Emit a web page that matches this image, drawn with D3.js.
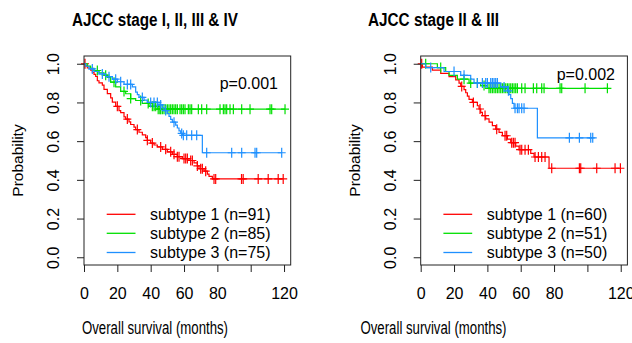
<!DOCTYPE html>
<html>
<head>
<meta charset="utf-8">
<title></title>
<style>
body { margin: 0; background: #fff; }
svg { display: block; }
text { fill: #000; font-family: "Liberation Sans", Arial, sans-serif; }
.box { fill: none; stroke: #222; stroke-width: 1px; }
.km { fill: none; stroke-width: 1.2px; }
.tick line { stroke: #222; }
</style>
</head>
<body>
<script src="https://cdn.jsdelivr.net/npm/d3@7"></script>
<script>

var width = 632,
    height = 343;

// axis ticks
var timeTicks = [0, 20, 40, 60, 80, 100, 120];
var timeTickLabels = ["0", "20", "40", "60", "80", "", "120"];
var probTicks = [0, 0.2, 0.4, 0.6, 0.8, 1.0];
var probTickLabels = ["0.0", "0.2", "0.4", "0.6", "0.8", "1.0"];

var subtypeColors = ["#ff0000", "#00e000", "#1e90ff"];

// panel A : AJCC stage I, II, III & IV
var stageAllTitle = "AJCC stage I, II, III & IV";
var stageAllPValue = "p=0.001";
var stageAllLegend = ["subtype 1 (n=91)", "subtype 2 (n=85)", "subtype 3 (n=75)"];

var stageAllSubtype1 = [[0,1],[1,0.989],[2,0.978],[4,0.967],[5,0.956],[6,0.945],[7,0.934],[8,0.912],[9,0.901],
  [11,0.89],[12,0.868],[14,0.846],[16,0.824],[17,0.802],[19,0.78],[21,0.758],[22,0.747],[24,0.725],[25,0.714],
  [27,0.70],[28,0.686],[30,0.672],[31,0.66],[33,0.646],[35,0.632],[37,0.618],[38,0.604],[40,0.59],[42,0.58],
  [44,0.57],[47,0.558],[50,0.545],[53,0.532],[56,0.52],[59,0.51],[63,0.50],[66,0.488],[68,0.472],[69,0.458],
  [72,0.445],[74,0.43],[75,0.418],[77,0.405]];
var stageAllSubtype1Censor = [0.6,20,26,32,38,41,46,49,52,54,56,57,60,61,62,64,65,68,70,71,73,78,79,
  94.5,95.5,104.5,110.5,116.5,119.5];

var stageAllSubtype2 = [[0,1],[2,0.988],[4,0.976],[6,0.965],[9,0.953],[12,0.941],[14,0.929],[16,0.905],
  [19,0.88],[22,0.857],[25,0.845],[28,0.82],[31,0.81],[35,0.795],[39,0.78],[44,0.765]];
var stageAllSubtype2Censor = [8,13,18,24,28,34,38.5,41,42,43,44.5,45.5,46,47,48,49,50,51,52,53,54,55,56,
  57.6,58.6,59.6,60.6,62.6,63.6,64.6,68.6,70.6,73.6,81.6,83.6,84.6,85.6,87.6,89.6,94.6,99.6,111.6,112.6,120.6];

var stageAllSubtype3 = [[0,1],[1,0.987],[3,0.973],[6,0.96],[9,0.947],[13,0.933],[17,0.92],[20,0.907],
  [24,0.893],[29,0.88],[31,0.853],[32,0.84],[33,0.826],[36,0.812],[38,0.80],[45,0.787],[47,0.772],[48,0.758],
  [50,0.743],[51,0.728],[52,0.713],[53,0.698],[55,0.683],[56,0.668],[57,0.653],[58,0.64],[59,0.63],[71,0.54]];
var stageAllSubtype3Censor = [5,11,15,19,22,26,28,35,40,42,44,46,49,54,58.6,59.6,61.6,64.6,67.6,73.6,
  88.6,94.6,102.6,103.6,118.6];

// panel B : AJCC stage II & III
var stageMidTitle = "AJCC stage II & III";
var stageMidPValue = "p=0.002";
var stageMidLegend = ["subtype 1 (n=60)", "subtype 2 (n=51)", "subtype 3 (n=50)"];

var stageMidSubtype1 = [[0,1],[1,0.983],[7,0.967],[12,0.95],[17,0.933],[21,0.917],[23,0.90],[24,0.883],
  [26,0.866],[27,0.85],[28,0.833],[29,0.816],[31,0.80],[34,0.783],[35,0.766],[36,0.749],[37,0.732],[39,0.715],
  [41,0.698],[43,0.68],[45,0.662],[47,0.645],[49,0.628],[52,0.61],[54,0.592],[57,0.574],[59,0.556],[66,0.537],
  [68,0.518],[77,0.46]];
var stageMidSubtype1Censor = [0.6,24.6,31.6,35.6,38.6,45.6,50.6,51.6,54.6,55.6,56.6,59.6,60.6,62.6,64.6,
  68.6,70.6,72.6,74.6,78.6,95.2,96,105.6,116.6,119.8];

var stageMidSubtype2 = [[0,1],[10,0.98],[15,0.96],[17,0.94],[22,0.92],[29,0.90],[36,0.887],[40,0.873]];
var stageMidSubtype2Censor = [3,12,26,30,34,38,41,42,43,44,45,46,47,48,49,50,51,52,53,54,55,56,57,58,
  60.6,62.6,67.6,69.6,72.6,74,83.6,84.6,98.6,112];

var stageMidSubtype3 = [[0,1],[3,0.98],[14,0.96],[24,0.94],[30,0.92],[32,0.90],[48,0.88],[52,0.86],
  [53,0.84],[54,0.82],[55,0.795],[56,0.77],[70,0.617]];
var stageMidSubtype3Censor = [6,20,26,34,37,39,40,42,43,44,45,46,50,52.6,56.6,58,59,60.6,62,
  89.2,95.2,102,103.2];

var svg = d3.select("body").append("svg")
    .attr("width", width)
    .attr("height", height);

drawPanel({
  left: 84, titleX: 155, pY: 88.5, pX: 278,
  title: stageAllTitle, titleW: 166, pValue: stageAllPValue, legend: stageAllLegend,
  steps: [stageAllSubtype1, stageAllSubtype2, stageAllSubtype3],
  censor: [stageAllSubtype1Censor, stageAllSubtype2Censor, stageAllSubtype3Censor]
});

drawPanel({
  left: 420.7, titleX: 433.5, pY: 79.5, pX: 615,
  title: stageMidTitle, titleW: 131, pValue: stageMidPValue, legend: stageMidLegend,
  steps: [stageMidSubtype1, stageMidSubtype2, stageMidSubtype3],
  censor: [stageMidSubtype1Censor, stageMidSubtype2Censor, stageMidSubtype3Censor]
});

function drawPanel(p) {
  var x = d3.scaleLinear().domain([0, 124]).range([p.left, p.left + 206.7]);
  var y = d3.scaleLinear().domain([-0.04, 1.04]).range([265, 56]);

  var g = svg.append("g");

  // survival value at time t (step function)
  function survAt(steps, t) {
    var s = 1;
    steps.forEach(function(d) { if (d[0] <= t) s = d[1]; });
    return s;
  }

  var line = d3.line()
      .x(function(d) { return x(d[0]); })
      .y(function(d) { return y(d[1]); })
      .curve(d3.curveStepAfter);

  p.steps.forEach(function(steps, i) {
    var cens = p.censor[i];
    var tEnd = Math.max(d3.max(cens), d3.max(steps, function(d) { return d[0]; }));
    var pts = steps.concat([[tEnd, survAt(steps, tEnd)]]);

    g.append("path")
        .attr("class", "km")
        .attr("d", line(pts))
        .style("stroke", subtypeColors[i]);

    g.append("g").selectAll("path")
        .data(cens)
        .enter().append("path")
        .attr("class", "km")
        .attr("d", function(t) {
          var cx = x(t), cy = y(survAt(steps, t));
          return "M" + (cx - 4) + "," + cy + "H" + (cx + 4) +
                 "M" + cx + "," + (cy - 5) + "V" + (cy + 5);
        })
        .style("stroke", subtypeColors[i]);
  });

  // box
  g.append("rect")
      .attr("class", "box")
      .attr("x", p.left)
      .attr("y", 56)
      .attr("width", 206.7)
      .attr("height", 209);

  // x axis
  var xAxis = g.append("g")
      .attr("transform", "translate(0,265)")
      .call(d3.axisBottom(x)
        .tickValues(timeTicks)
        .tickFormat(function(d, i) { return timeTickLabels[i]; })
        .tickSize(7)
        .tickPadding(16));
  xAxis.select(".domain").remove();
  xAxis.selectAll("text")
      .style("font-size", "16px")
      .style("font-family", "Liberation Sans, Arial, sans-serif");

  // y axis with rotated labels
  var yAxis = g.append("g")
      .attr("transform", "translate(" + p.left + ",0)")
      .call(d3.axisLeft(y)
        .tickValues(probTicks)
        .tickFormat(function(d, i) { return probTickLabels[i]; })
        .tickSize(7));
  yAxis.select(".domain").remove();
  yAxis.selectAll("text")
      .attr("x", 0)
      .attr("y", -25)
      .attr("dy", 0)
      .attr("text-anchor", "middle")
      .attr("transform", "rotate(-90)")
      .style("font-size", "16px")
      .style("font-family", "Liberation Sans, Arial, sans-serif");

  // titles and labels
  g.append("text")
      .attr("x", p.titleX)
      .attr("y", 25.5)
      .attr("text-anchor", "middle")
      .attr("textLength", p.titleW)
      .attr("lengthAdjust", "spacingAndGlyphs")
      .style("font-size", "18px")
      .style("font-weight", "bold")
      .text(p.title);

  g.append("text")
      .attr("x", p.titleX)
      .attr("y", 333.5)
      .attr("text-anchor", "middle")
      .attr("textLength", 146)
      .attr("lengthAdjust", "spacingAndGlyphs")
      .style("font-size", "17.5px")
      .text("Overall survival (months)");

  g.append("text")
      .attr("transform", "translate(" + (p.left - 61) + ",160.5) rotate(-90)")
      .attr("text-anchor", "middle")
      .style("font-size", "15.5px")
      .text("Probability");

  g.append("text")
      .attr("x", p.pX)
      .attr("y", p.pY)
      .attr("text-anchor", "end")
      .style("font-size", "16px")
      .text(p.pValue);

  // legend
  var legendRows = [214.3, 233.3, 252.5];
  p.legend.forEach(function(label, i) {
    g.append("line")
        .attr("x1", p.left + 22.7)
        .attr("x2", p.left + 51.5)
        .attr("y1", legendRows[i])
        .attr("y2", legendRows[i])
        .style("stroke", subtypeColors[i])
        .style("stroke-width", 1.3);
    g.append("text")
        .attr("x", p.left + 66)
        .attr("y", legendRows[i] + 5.5)
        .style("font-size", "16px")
        .text(label);
  });
}

</script>
</body>
</html>
